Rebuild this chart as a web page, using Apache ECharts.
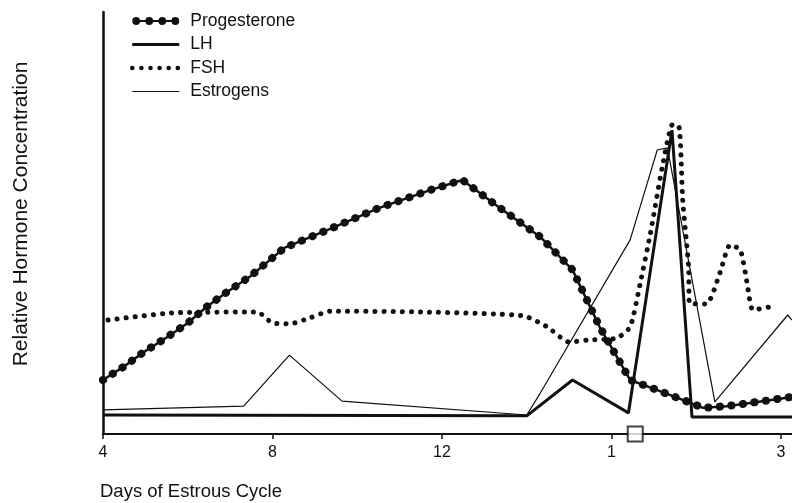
<!DOCTYPE html>
<html>
<head>
<meta charset="utf-8">
<script src="https://cdn.jsdelivr.net/npm/echarts@6/dist/echarts.min.js"></script>
<style>
  html, body { margin: 0; padding: 0; background: #fff; }
  #chart { width: 792px; height: 503px; }
</style>
</head>
<body>
<div id="chart"></div>
<script>
// x is the position along the day axis, one unit per labelled tick
const tickLabels = ['4', '8', '12', '1', '3'];
const tickPos = [0, 1, 2, 3, 4];

const progesterone = [
  [0, 12.8], [0.12, 15.9], [0.24, 19.4], [0.38, 23.0], [0.5, 26.3], [0.61, 30.1],
  [0.73, 33.6], [0.87, 37.4], [1.07, 44.1], [1.34, 48.6], [1.63, 53.6], [1.93, 57.8],
  [2.12, 60.2], [2.34, 53.6], [2.58, 46.7], [2.77, 38.9], [2.93, 25.4], [3.11, 12.8],
  [3.27, 10.4], [3.42, 8.1], [3.54, 6.2], [3.68, 6.6], [3.86, 7.6], [4.065, 8.8]
];
const lh = [
  [0, 4.5], [2.5, 4.3], [2.77, 12.8], [3.1, 5.0], [3.357, 72.0], [3.475, 4.0], [4.065, 4.0]
];
const fsh = [
  [0.03, 27.0], [0.41, 28.7], [0.91, 28.9], [1.0, 26.3], [1.1, 26.1], [1.22, 27.5],
  [1.34, 29.1], [1.89, 28.9], [2.48, 28.0], [2.62, 25.4], [2.75, 21.8], [2.87, 22.3],
  [3.03, 22.7], [3.11, 25.4], [3.17, 35.8], [3.23, 47.6], [3.3, 63.3], [3.363, 73.5],
  [3.4, 72.5], [3.42, 55.5], [3.455, 39.6], [3.46, 31.0], [3.56, 30.8], [3.64, 38.2],
  [3.7, 44.8], [3.76, 43.6], [3.8, 35.8], [3.835, 29.4], [3.935, 30.1]
];
const estrogens = [
  [0, 5.7], [0.83, 6.6], [1.1, 18.7], [1.41, 7.8], [2.5, 4.5], [2.58, 9.7],
  [3.11, 46.0], [3.27, 67.3], [3.33, 67.8], [3.61, 7.6], [4.04, 28.2], [4.065, 27.0]
];
const ovulationMark = [[3.14, 0]];

const ink = '#111';
const font = 'Liberation Sans, Arial, sans-serif';
const noDot = { color: 'rgba(0,0,0,0)', borderColor: 'rgba(0,0,0,0)', borderWidth: 0, opacity: 0 };

// dots joined by a thin line, for the progesterone legend entry
const progIcon = 'path://M0,4a4,4 0 1,1 8,0a4,4 0 1,1 -8,0z' +
  'M13.3,4a4,4 0 1,1 8,0a4,4 0 1,1 -8,0z' +
  'M26.6,4a4,4 0 1,1 8,0a4,4 0 1,1 -8,0z' +
  'M39.9,4a4,4 0 1,1 8,0a4,4 0 1,1 -8,0z' +
  'M4,3h40v2h-40z';

const chart = echarts.init(document.getElementById('chart'), null, { renderer: 'canvas' });

const option = {
  backgroundColor: '#fff',
  animation: false,
  color: [ink],
  textStyle: { fontFamily: font, color: ink },
  legend: {
    orient: 'vertical',
    left: 130,
    top: 12,
    padding: 0,
    itemWidth: 47,
    itemHeight: 8,
    itemGap: 5.5,
    textStyle: { fontSize: 17.5, color: ink, fontFamily: font, padding: [0, 0, 0, 6] },
    data: [
      { name: 'Progesterone', icon: progIcon, itemStyle: { color: ink } },
      { name: 'LH', lineStyle: { width: 3 }, itemStyle: noDot },
      { name: 'FSH', lineStyle: { width: 4.5 }, itemStyle: noDot },
      { name: 'Estrogens', lineStyle: { width: 1.2 }, itemStyle: noDot }
    ]
  },
  grid: { left: 103, right: 0, top: 12, bottom: 69 },
  xAxis: {
    type: 'value',
    min: 0,
    max: 4.065,
    name: 'Days of Estrous Cycle',
    nameLocation: 'start',
    nameGap: 3,
    nameTextStyle: {
      fontSize: 18.5, color: ink, align: 'left', verticalAlign: 'top',
      padding: [48, 0, 0, 0]
    },
    splitLine: { show: false },
    axisLine: { lineStyle: { color: ink, width: 2 } },
    axisTick: { customValues: tickPos, length: 5, lineStyle: { color: ink, width: 1.5 } },
    axisLabel: {
      customValues: tickPos,
      margin: 11,
      fontSize: 16,
      color: ink,
      formatter: v => tickLabels[Math.round(v)]
    }
  },
  yAxis: {
    type: 'value',
    min: 0,
    max: 100,
    name: 'Relative Hormone Concentration',
    nameLocation: 'middle',
    nameGap: 71,
    nameTextStyle: { fontSize: 21, color: ink, padding: [0, 0, 0, 18] },
    splitLine: { show: false },
    axisLine: { show: true, lineStyle: { color: ink, width: 2.5 } },
    axisTick: { show: false },
    axisLabel: { show: false }
  },
  series: [
    {
      name: 'progesterone-line',
      type: 'line',
      data: progesterone,
      symbol: 'none',
      silent: true,
      lineStyle: { color: ink, width: 2.5 }
    },
    {
      name: 'Progesterone',
      type: 'line',
      data: progesterone,
      symbol: 'none',
      lineStyle: { color: ink, width: 8, type: [0.1, 11.5], cap: 'round' }
    },
    {
      name: 'LH',
      type: 'line',
      data: lh,
      symbol: 'none',
      lineStyle: { color: ink, width: 3 }
    },
    {
      name: 'FSH',
      type: 'line',
      data: fsh,
      symbol: 'none',
      smooth: 0.2,
      lineStyle: { color: ink, width: 5, type: [0.1, 9], cap: 'round' }
    },
    {
      name: 'Estrogens',
      type: 'line',
      data: estrogens,
      symbol: 'none',
      lineStyle: { color: ink, width: 1.2 }
    },
    {
      name: 'ovulation',
      type: 'scatter',
      data: ovulationMark,
      symbol: 'rect',
      symbolSize: 15,
      z: 10,
      itemStyle: { color: '#fff', borderColor: ink, borderWidth: 2 }
    }
  ]
};

chart.setOption(option);
</script>
</body>
</html>
